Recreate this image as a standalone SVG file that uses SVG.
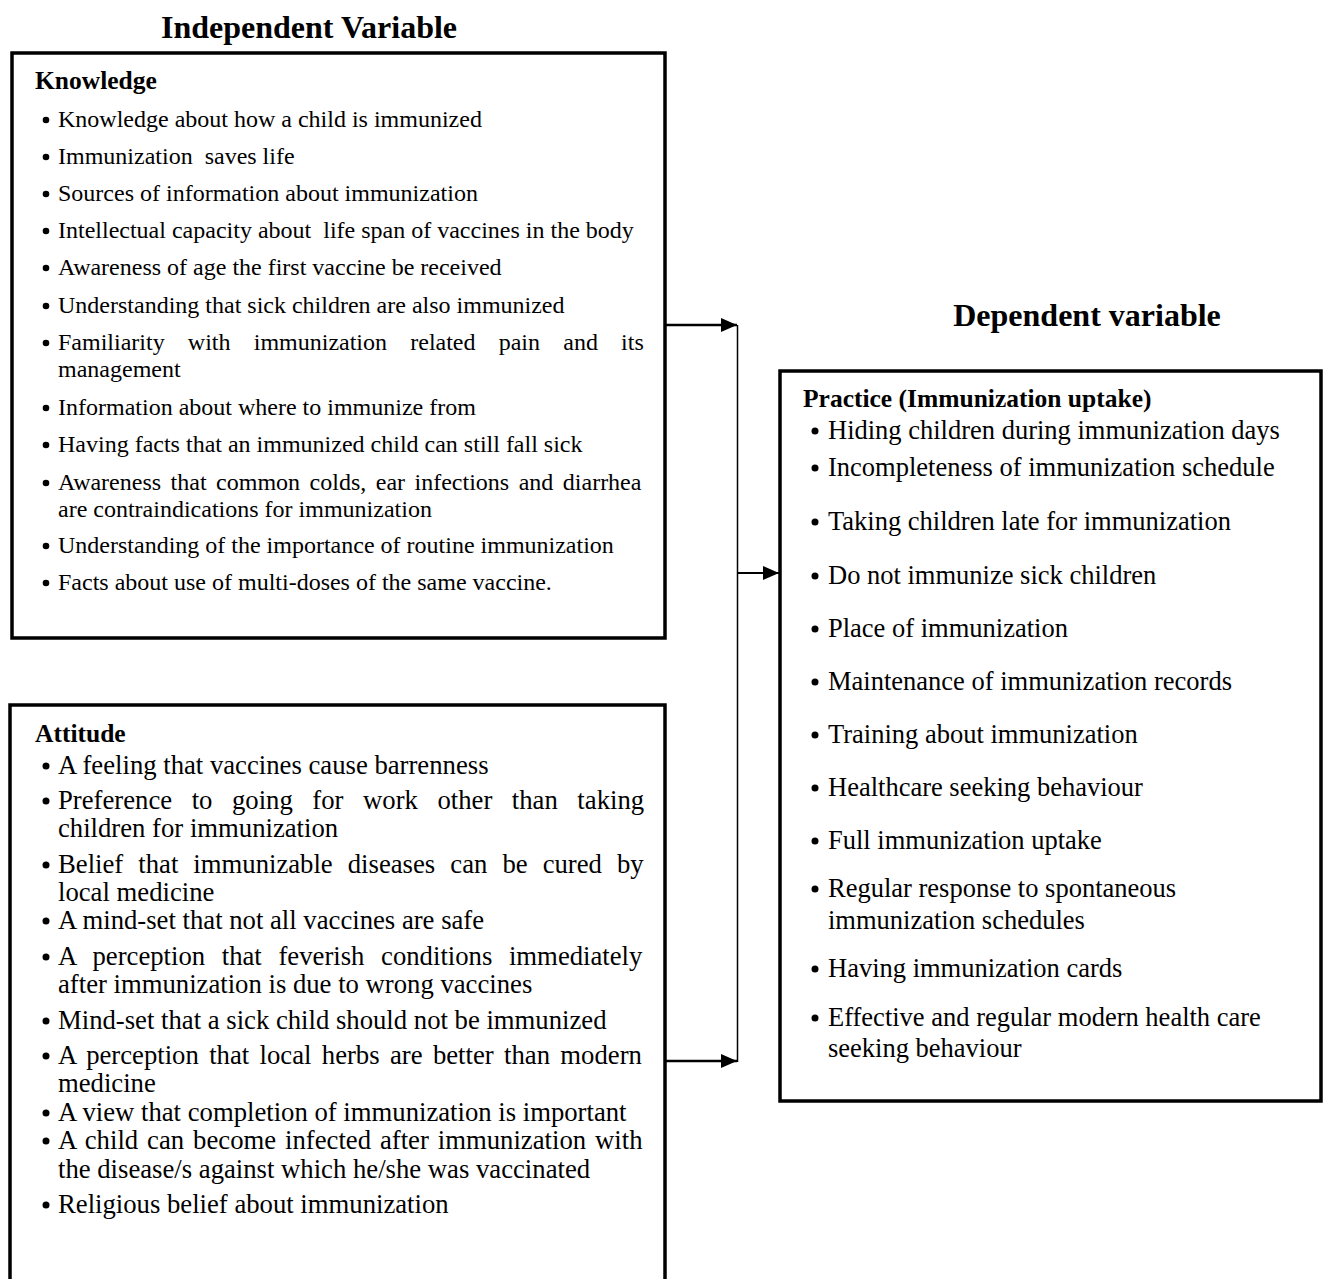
<svg xmlns="http://www.w3.org/2000/svg" width="1323" height="1279" viewBox="0 0 1323 1279">
<style>
.title{font-family:"Liberation Serif","Times New Roman",serif;font-weight:bold;font-size:32px;fill:#000}
.head{font-family:"Liberation Serif","Times New Roman",serif;font-weight:bold;font-size:25.5px;fill:#000}
.k{font-family:"Liberation Serif","Times New Roman",serif;font-size:24px;fill:#000}
.a{font-family:"Liberation Serif","Times New Roman",serif;font-size:26.7px;fill:#000}
.p{font-family:"Liberation Serif","Times New Roman",serif;font-size:26.5px;fill:#000}
.box{fill:none;stroke:#000;stroke-width:3.5}
.conn{fill:none;stroke:#000}
.b{fill:#000}
</style>
<defs>
<marker id="arr" markerUnits="userSpaceOnUse" markerWidth="18" markerHeight="16" refX="16" refY="7" orient="auto">
<path d="M0,0 L16,7 L0,14 z" fill="#000"/>
</marker>
</defs>
<rect width="1323" height="1279" fill="#fff"/>

<text class="title" x="309" y="38" text-anchor="middle">Independent Variable</text>
<text class="title" x="1087" y="326" text-anchor="middle">Dependent variable</text>

<g id="knowledge">
<rect class="box" x="12" y="53" width="653" height="585"/>
<text class="head" x="35" y="89">Knowledge</text>
<g class="b">
<circle cx="46" cy="120" r="3.3"/><circle cx="46" cy="157" r="3.3"/><circle cx="46" cy="194" r="3.3"/><circle cx="46" cy="231" r="3.3"/><circle cx="46" cy="268" r="3.3"/><circle cx="46" cy="306" r="3.3"/><circle cx="46" cy="343" r="3.3"/><circle cx="46" cy="408" r="3.3"/><circle cx="46" cy="445" r="3.3"/><circle cx="46" cy="483" r="3.3"/><circle cx="46" cy="546" r="3.3"/><circle cx="46" cy="583" r="3.3"/>
</g>
<text class="k" x="58" y="127">Knowledge about how a child is immunized</text>
<text class="k" x="58" y="164" xml:space="preserve">Immunization  saves life</text>
<text class="k" x="58" y="201">Sources of information about immunization</text>
<text class="k" x="58" y="238" xml:space="preserve">Intellectual capacity about  life span of vaccines in the body</text>
<text class="k" x="58" y="275">Awareness of age the first vaccine be received</text>
<text class="k" x="58" y="313">Understanding that sick children are also immunized</text>
<text class="k" x="58" y="350" word-spacing="17.2">Familiarity with immunization related pain and its</text>
<text class="k" x="58" y="377">management</text>
<text class="k" x="58" y="415">Information about where to immunize from</text>
<text class="k" x="58" y="452">Having facts that an immunized child can still fall sick</text>
<text class="k" x="58" y="490" word-spacing="3.5">Awareness that common colds, ear infections and diarrhea</text>
<text class="k" x="58" y="517">are contraindications for immunization</text>
<text class="k" x="58" y="553">Understanding of the importance of routine immunization</text>
<text class="k" x="58" y="590">Facts about use of multi-doses of the same vaccine.</text>
</g>

<g id="attitude">
<rect class="box" x="10" y="705" width="655" height="600"/>
<text class="head" x="35" y="742">Attitude</text>
<g class="b">
<circle cx="46" cy="766" r="3.5"/><circle cx="46" cy="801" r="3.5"/><circle cx="46" cy="865" r="3.5"/><circle cx="46" cy="921" r="3.5"/><circle cx="46" cy="957" r="3.5"/><circle cx="46" cy="1021" r="3.5"/><circle cx="46" cy="1056" r="3.5"/><circle cx="46" cy="1113" r="3.5"/><circle cx="46" cy="1141" r="3.5"/><circle cx="46" cy="1205" r="3.5"/>
</g>
<text class="a" x="58" y="774">A feeling that vaccines cause barrenness</text>
<text class="a" x="58" y="809" word-spacing="12.9">Preference to going for work other than taking</text>
<text class="a" x="58" y="837">children for immunization</text>
<text class="a" x="58" y="873" word-spacing="8.4">Belief that immunizable diseases can be cured by</text>
<text class="a" x="58" y="901">local medicine</text>
<text class="a" x="58" y="929">A mind-set that not all vaccines are safe</text>
<text class="a" x="58" y="965" word-spacing="10">A perception that feverish conditions immediately</text>
<text class="a" x="58" y="993">after immunization is due to wrong vaccines</text>
<text class="a" x="58" y="1029">Mind-set that a sick child should not be immunized</text>
<text class="a" x="58" y="1064" word-spacing="3.7">A perception that local herbs are better than modern</text>
<text class="a" x="58" y="1092">medicine</text>
<text class="a" x="58" y="1121">A view that completion of immunization is important</text>
<text class="a" x="58" y="1149" word-spacing="2.3">A child can become infected after immunization with</text>
<text class="a" x="58" y="1178">the disease/s against which he/she was vaccinated</text>
<text class="a" x="58" y="1213">Religious belief about immunization</text>
</g>

<g id="practice">
<rect class="box" x="780" y="371" width="541" height="730"/>
<text class="head" x="803" y="407">Practice (Immunization uptake)</text>
<g class="b">
<circle cx="815" cy="431" r="3.5"/><circle cx="815" cy="468" r="3.5"/><circle cx="815" cy="522" r="3.5"/><circle cx="815" cy="576" r="3.5"/><circle cx="815" cy="629" r="3.5"/><circle cx="815" cy="682" r="3.5"/><circle cx="815" cy="735" r="3.5"/><circle cx="815" cy="788" r="3.5"/><circle cx="815" cy="841" r="3.5"/><circle cx="815" cy="889" r="3.5"/><circle cx="815" cy="969" r="3.5"/><circle cx="815" cy="1018" r="3.5"/>
</g>
<text class="p" x="828" y="439">Hiding children during immunization days</text>
<text class="p" x="828" y="476">Incompleteness of immunization schedule</text>
<text class="p" x="828" y="530">Taking children late for immunization</text>
<text class="p" x="828" y="584">Do not immunize sick children</text>
<text class="p" x="828" y="637">Place of immunization</text>
<text class="p" x="828" y="690">Maintenance of immunization records</text>
<text class="p" x="828" y="743">Training about immunization</text>
<text class="p" x="828" y="796">Healthcare seeking behaviour</text>
<text class="p" x="828" y="849">Full immunization uptake</text>
<text class="p" x="828" y="897">Regular response to spontaneous</text>
<text class="p" x="828" y="929">immunization schedules</text>
<text class="p" x="828" y="977">Having immunization cards</text>
<text class="p" x="828" y="1026">Effective and regular modern health care</text>
<text class="p" x="828" y="1057">seeking behaviour</text>
</g>

<g id="connectors">
<line class="conn" x1="665" y1="325" x2="737" y2="325" stroke-width="2.5" marker-end="url(#arr)"/>
<line class="conn" x1="665" y1="1061" x2="737" y2="1061" stroke-width="2.5" marker-end="url(#arr)"/>
<line class="conn" x1="737.5" y1="325" x2="737.5" y2="1062" stroke-width="1.5"/>
<line class="conn" x1="737" y1="573" x2="779" y2="573" stroke-width="2" marker-end="url(#arr)"/>
</g>
</svg>
